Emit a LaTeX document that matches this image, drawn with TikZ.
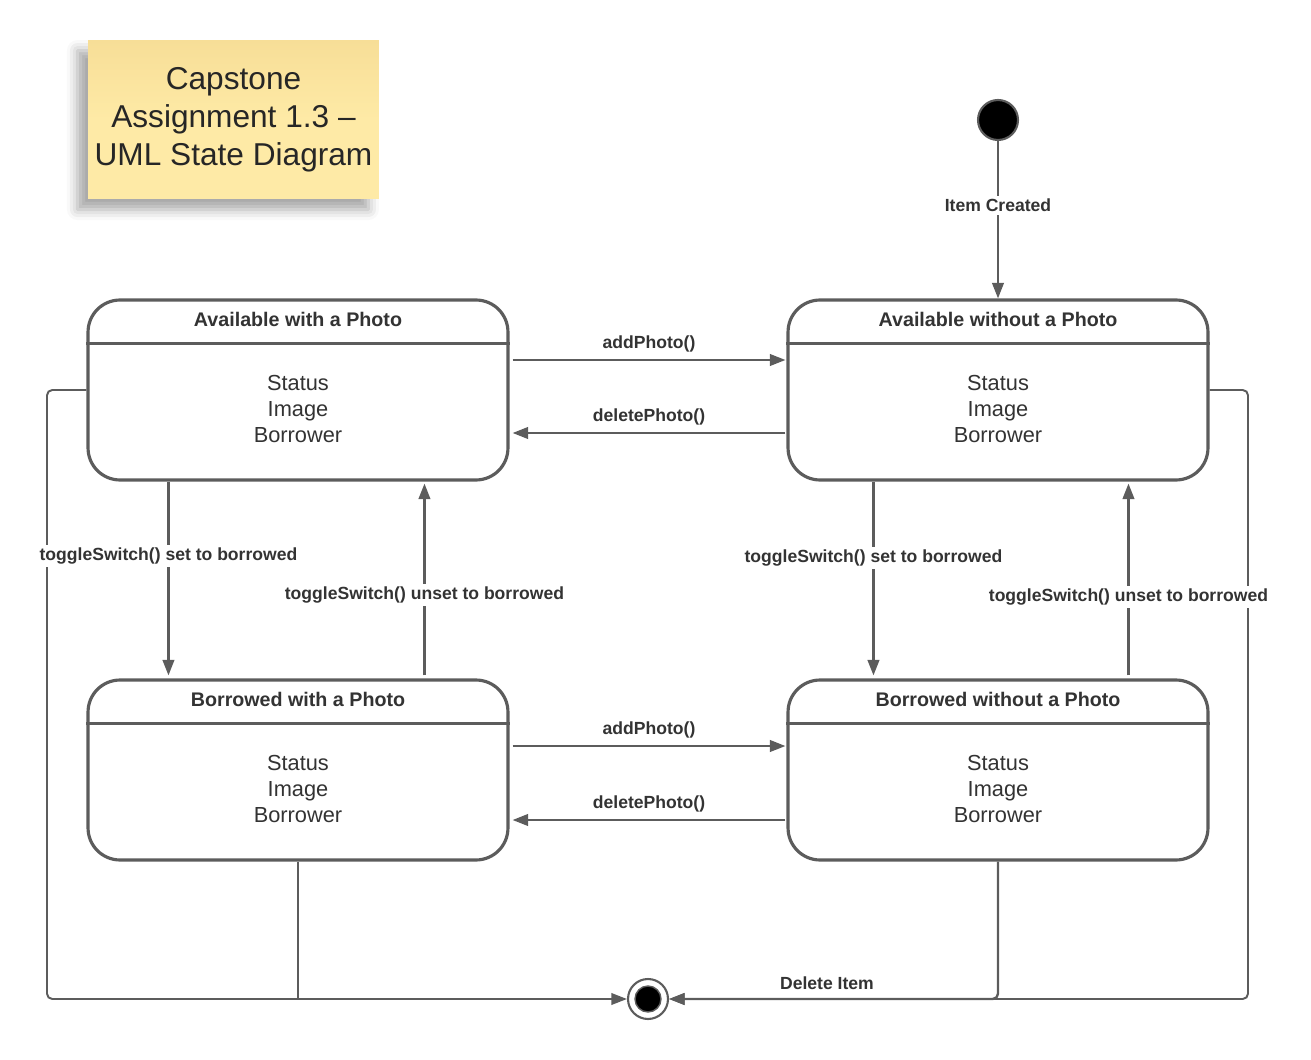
\documentclass[tikz,border=0pt]{standalone}
\usepackage{fontspec}
\setmainfont{Liberation Sans}
\usetikzlibrary{calc,positioning,arrows.meta,shadows.blur}
\definecolor{linegray}{HTML}{5C5C5C}
\definecolor{textgray}{HTML}{333333}
\definecolor{stickytop}{HTML}{F7DE97}
\definecolor{stickyfill}{HTML}{FEEAA6}

\tikzset{
  state/.style={draw=linegray,line width=1.8pt,rounded corners=0.64cm,
    minimum width=8.4cm,minimum height=3.6cm,fill=white,inner sep=0pt},
  head/.style={font={\fontsize{11.2}{13}\selectfont\bfseries},text=textgray},
  attrs/.style={font={\fontsize{12.4}{15}\selectfont},text=textgray,align=center},
  lbl/.style={font={\fontsize{10}{12}\selectfont\bfseries},text=textgray,fill=white,inner sep=1.5pt},
  arr/.style={draw=linegray,line width=1.35pt,-{Triangle[length=3.1mm,width=2.3mm]}},
  wire/.style={draw=linegray,line width=1.1pt,rounded corners=3pt},
  initial/.style={circle,fill=black,draw=linegray,line width=1.2pt,minimum size=0.8cm,inner sep=0pt},
  final/.style={circle,fill=white,draw=linegray,line width=1.2pt,minimum size=0.8cm,inner sep=0pt},
  sticky/.style={shade,top color=stickytop,bottom color=stickyfill,middle color=stickyfill,
    minimum width=5.82cm,minimum height=3.18cm,align=center,text=black!85,
    font={\fontsize{18}{21.6}\selectfont},
    blur shadow={shadow xshift=-6pt,shadow yshift=-6pt,shadow blur radius=6pt,shadow opacity=35}}
}

\begin{document}
\begin{tikzpicture}[x=0.02cm,y=-0.02cm]
\useasboundingbox (0,0) rectangle (1311,1060);

% title note
\node[sticky] (title) at (233.5,119.5) {Capstone\\Assignment 1.3 --\\UML State Diagram};

% states
\node[state] (awp) at (298,390) {};
\node[state] (awop) at (998,390) {};
\node[state] (bwp) at (298,770) {};
\node[state] (bwop) at (998,770) {};

\foreach \s/\t in {awp/Available with a Photo,awop/Available without a Photo,
                   bwp/Borrowed with a Photo,bwop/Borrowed without a Photo}{
  \draw[draw=linegray,line width=1.8pt] ($(\s.north west)+(0,45)$) -- ($(\s.north east)+(0,45)$);
  \node[head] at ($(\s.north)+(0,21)$) {\t};
  \node[attrs] at ($(\s.center)+(0,19)$) {Status\\Image\\Borrower};
}

% pseudo states
\node[initial] (init) at (998,120) {};
\node[final] (fin) at (648,999) {};
\node[circle,fill=black,draw=linegray,line width=0.8pt,minimum size=0.52cm,inner sep=0pt] at (fin) {};

% deletion
\coordinate (lj) at (bwp.south |- fin.west);
\coordinate (rj) at (bwop.south |- fin.east);
\draw[wire] (bwp.south) -- (lj);
\draw[wire,arr,line width=1.1pt] (awp.west) -- (47,390) -- (47,999) -- (fin.west);
\draw[wire,arr,line width=1.1pt] (awop.east) -- (1248,390) -- (1248,999) -- (fin.east);
\draw[wire,arr] (bwop.south) -- (rj) -- node[lbl,above=3pt,pos=0.52,fill=none] {Delete Item} (fin.east);

% transitions
\draw[arr] (init) -- node[lbl,pos=0.41] {Item Created} (awop.north);

\draw[arr] ($(awp.east)+(3,-30)$) -- node[lbl,above=2.5pt] {addPhoto()} ($(awop.west)+(-1,-30)$);
\draw[arr] ($(awop.west)+(-1,43)$) -- node[lbl,above=2.5pt] {deletePhoto()} ($(awp.east)+(3,43)$);
\draw[arr] ($(bwp.east)+(3,-24)$) -- node[lbl,above=2.5pt] {addPhoto()} ($(bwop.west)+(-1,-24)$);
\draw[arr] ($(bwop.west)+(-1,50)$) -- node[lbl,above=2.5pt] {deletePhoto()} ($(bwp.east)+(3,50)$);

\draw[arr] ($(awp.south west)+(82,0)$) -- node[lbl,pos=0.385] {toggleSwitch() set to borrowed} ($(bwp.north west)+(82,-3)$);
\draw[arr] ($(bwp.north west)+(338,-3)$) -- node[lbl,pos=0.42] {toggleSwitch() unset to borrowed} ($(awp.south west)+(338,2)$);
\draw[arr] ($(awop.south west)+(87,0)$) -- node[lbl,pos=0.395] {toggleSwitch() set to borrowed} ($(bwop.north west)+(87,-3)$);
\draw[arr] ($(bwop.north west)+(342,-3)$) -- node[lbl,pos=0.41] {toggleSwitch() unset to borrowed} ($(awop.south west)+(342,2)$);
\end{tikzpicture}
\end{document}
